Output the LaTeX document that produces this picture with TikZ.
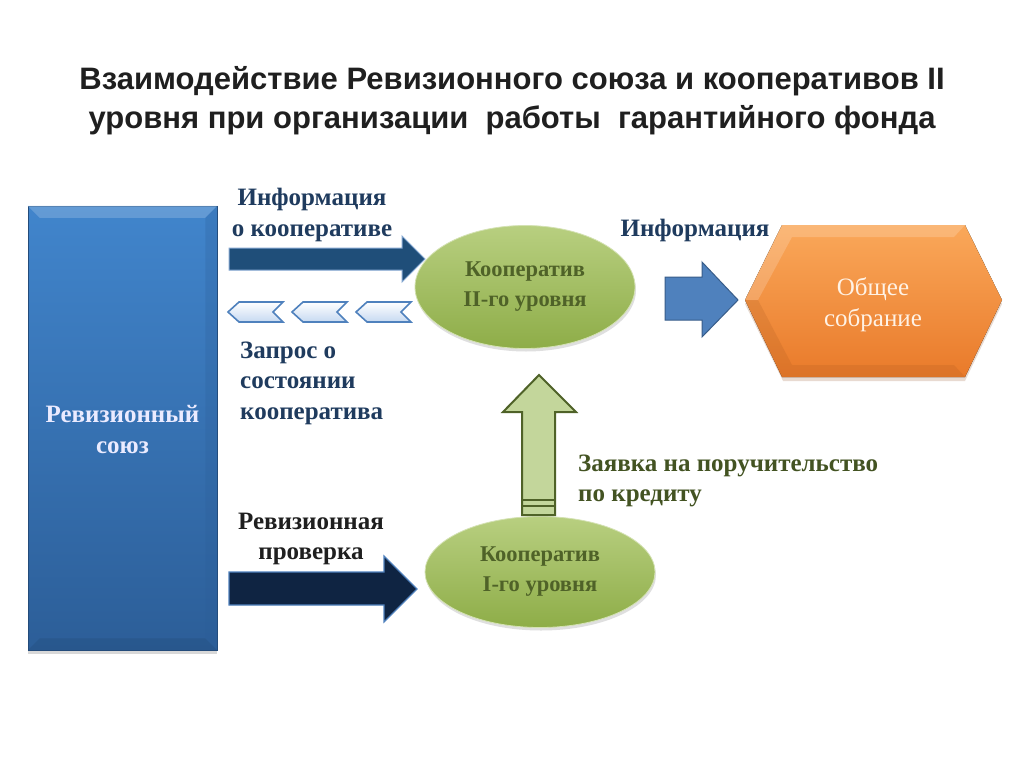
\documentclass[tikz,border=0pt]{standalone}
\usepackage{fontspec}
\setmainfont{Liberation Serif}
\newfontfamily\titlefont{Liberation Sans}
\usetikzlibrary{shapes.geometric,shadows}
\definecolor{navytxt}{HTML}{1F3B5E}
\definecolor{olivetxt}{HTML}{4F6228}
\definecolor{boxtop}{HTML}{4185CC}
\definecolor{boxbot}{HTML}{2C5E98}
\definecolor{greentop}{HTML}{B8CF80}
\definecolor{greenbot}{HTML}{8EAD48}
\definecolor{oratop}{HTML}{FAA85A}
\definecolor{orabot}{HTML}{E97A2A}
\definecolor{darkarrow}{HTML}{1F4E79}
\definecolor{navyarrow}{HTML}{0F2442}
\definecolor{midblue}{HTML}{4F81BD}
\definecolor{midblueedge}{HTML}{385D8A}
\definecolor{lightgreen}{HTML}{C3D69B}
\definecolor{chevfill}{HTML}{C6D9F1}
\tikzset{
  lbl/.style={font=\bfseries\fontsize{25}{30.5}\selectfont, inner sep=0pt},
  coop/.style={ellipse, top color=greentop, bottom color=greenbot, draw=greentop!60!white, line width=0.8pt,
    font=\bfseries\fontsize{22.5}{30}\selectfont, text=olivetxt, align=center,
    drop shadow={opacity=0.25, shadow xshift=1pt, shadow yshift=-3pt}},
  chev/.style={top color=white, bottom color=chevfill, draw=midblue, line width=1.6pt, line join=miter},
}
\begin{document}
\begin{tikzpicture}[x=1pt,y=-1pt]
\useasboundingbox (0,0) rectangle (1024,768);
\fill[white] (0,0) rectangle (1024,768);

% title
\node[font=\titlefont\bfseries\fontsize{31}{39}\selectfont, align=center, text=black!88] (title) at (512,101)
  {Взаимодействие Ревизионного союза и кооперативов II\\уровня при организации\ \ работы\ \ гарантийного фонда};

% left box
\node[rectangle, minimum width=189pt, minimum height=444pt, top color=boxtop, bottom color=boxbot,
  draw=boxbot!80!black, line width=0.5pt, inner sep=0pt,
  drop shadow={opacity=0.3, shadow xshift=0pt, shadow yshift=-4pt}] (rs) at (122.5,428) {};
\fill[boxtop!70!white, opacity=0.6] (rs.north west) -- (rs.north east) -- ([xshift=-12pt,yshift=-12pt]rs.north east) -- ([xshift=12pt,yshift=-12pt]rs.north west) -- cycle;
\fill[boxbot!80!black, opacity=0.35] (rs.south west) -- (rs.south east) -- ([xshift=-12pt,yshift=12pt]rs.south east) -- ([xshift=12pt,yshift=12pt]rs.south west) -- cycle;
\fill[boxbot, opacity=0.25] (rs.north east) -- (rs.south east) -- ([xshift=-12pt,yshift=12pt]rs.south east) -- ([xshift=-12pt,yshift=-12pt]rs.north east) -- cycle;
\node[lbl, text=white!92!blue, align=center] (rstxt) at ([yshift=-1.5pt]rs.center) {Ревизионный\\союз};

% cooperatives
\node[coop, minimum width=220pt, minimum height=123pt] (k2) at (525,287) {Кооператив\\II-го уровня};
\node[coop, minimum width=230pt, minimum height=111pt] (k1) at (540,572) {Кооператив\\I-го уровня};

% general meeting hexagon
\coordinate (hl) at (745,300);
\coordinate (hr) at (1002,300);
\fill[orabot!60!black, opacity=0.2] ([yshift=-4pt]hl) -- (783,229) -- (965,229) -- ([yshift=-4pt]hr) -- (965,381) -- (783,381) -- cycle;
\fill[top color=oratop, bottom color=orabot] (hl) -- (782,225) -- (965,225) -- (hr) -- (965,377) -- (782,377) -- cycle;
\fill[white, opacity=0.18] (hl) -- (782,225) -- (965,225) -- (954,237) -- (792,237) -- (758,300) -- cycle;
\fill[orabot!70!black, opacity=0.18] (hl) -- (782,377) -- (965,377) -- (954,365) -- (792,365) -- (758,300) -- cycle;
\node[font=\fontsize{25}{31}\selectfont, text=white!90!orange, align=center] (os) at (873,305) {Общее\\собрание};

% arrow: information about cooperative
\draw[fill=darkarrow, draw=midblue!70!white, line width=1pt, line join=miter]
  (229,248) -- (402,248) -- (402,236) -- (425,259) -- (402,282) -- (402,270) -- (229,270) -- cycle;
\node[lbl, text=navytxt, align=center] (info1) at (312,215) {Информация\\о кооперативе};

% chevrons: request
\foreach \x in {228,292,356}{
  \draw[chev] (\x,312) -- (\x+11,302) -- (\x+55,302) -- (\x+45,312) -- (\x+55,322) -- (\x+11,322) -- cycle;
}
\node[lbl, text=navytxt, align=left, anchor=west] (zapr) at (240,383) {Запрос о\\состоянии\\кооператива};

% arrow: audit
\draw[fill=navyarrow, draw=midblue, line width=1.2pt, line join=miter]
  (229,572) -- (384,572) -- (384,556) -- (417,589) -- (384,622) -- (384,605) -- (229,605) -- cycle;
\node[lbl, text=black!88, align=center] (rev) at (311,539) {Ревизионная\\проверка};

% up arrow: application
\draw[fill=lightgreen, draw=olivetxt, line width=2pt, line join=miter]
  (522,515) -- (522,412) -- (503,412) -- (539,375) -- (576,412) -- (555,412) -- (555,515) -- cycle;
\draw[olivetxt, line width=2.5pt] (522,500) -- (555,500);
\draw[olivetxt, line width=2pt] (522,506) -- (555,506);
\node[lbl, text=olivetxt!85!black, align=left, anchor=west] (zayav) at (578,481) {Заявка на поручительство\\по кредиту};

% arrow: information to meeting
\draw[fill=midblue, draw=midblueedge, line width=1pt, line join=miter]
  (665,277) -- (702,277) -- (702,262) -- (738,300) -- (702,337) -- (702,320) -- (665,320) -- cycle;
\node[lbl, text=navytxt] (info2) at (695,230) {Информация};
\end{tikzpicture}
\end{document}
